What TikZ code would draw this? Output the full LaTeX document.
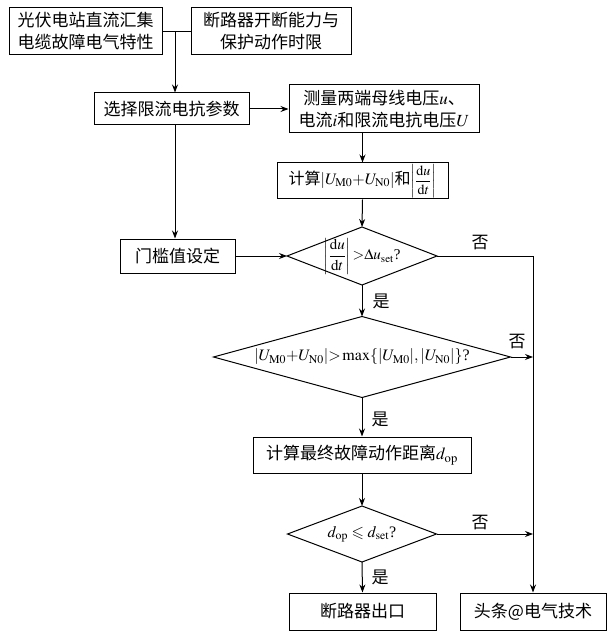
\documentclass[tikz,border=0pt]{standalone}
\usepackage{mathptmx}
\usepackage{amssymb}
\usepackage{fontspec}
\setmainfont{Liberation Serif}
\newfontfamily\cjk{Noto Sans CJK SC}
\usetikzlibrary{arrows.meta,shapes.geometric}
\newcommand{\dudt}{\left|\displaystyle\frac{\mathrm{d}u}{\mathrm{d}t}\right|}
\tikzset{
  box/.style={draw, line width=1pt, rectangle, inner sep=0pt, align=center, font=\cjk\fontsize{17}{22}\selectfont},
  dia/.style={draw, line width=1pt, diamond, inner sep=0pt, outer sep=0pt},
  diatext/.style={inner sep=0pt, font=\fontsize{16}{20}\selectfont},
  conn/.style={line width=1pt},
  arr/.style={line width=1pt, -{Stealth[length=8pt,width=6pt]}},
  lab/.style={font=\cjk\fontsize{17}{20}\selectfont, inner sep=0pt}
}
\begin{document}
\begin{tikzpicture}[x=1pt,y=-1pt]
\useasboundingbox (0,0) rectangle (613,636);
\fill[white] (0,0) rectangle (613,636);
\node[box, minimum width=153pt, minimum height=47pt] (A) at (85.5,31.5) {光伏电站直流汇集\\电缆故障电气特性};
\node[box, minimum width=160pt, minimum height=47pt] (B) at (271,31.5) {断路器开断能力与\\保护动作时限};
\node[box, minimum width=155pt, minimum height=32pt] (C) at (171.5,109) {选择限流电抗参数};
\node[box, minimum width=190pt, minimum height=48pt] (D) at (384,109) {测量两端母线电压$u$、\\电流$i$和限流电抗电压$U$};
\node[box, minimum width=171pt, minimum height=36pt, font=\cjk\fontsize{16}{20}\selectfont] (E) at (362.5,181) {计算$|U_{\mathrm{M0}}{+}U_{\mathrm{N0}}|$和\fontsize{14}{17}\selectfont$\dudt$};
\node[box, minimum width=115pt, minimum height=34pt] (F) at (177.5,256) {门槛值设定};
\node[dia, minimum width=150pt, minimum height=58pt] (d1) at (362,256) {};
\node[diatext, font=\fontsize{15}{18}\selectfont] (d1t) at (d1) {$\dudt{>}\Delta u_{\mathrm{set}}$?};
\node[dia, minimum width=297pt, minimum height=81pt] (d2) at (362,357) {};
\node[diatext] (d2t) at (d2) {$|U_{\mathrm{M0}}{+}U_{\mathrm{N0}}|{>}\max\{|U_{\mathrm{M0}}|,|U_{\mathrm{N0}}|\}$?};
\node[box, minimum width=218pt, minimum height=36pt] (G) at (362,455) {计算最终故障动作距离$d_{\mathrm{op}}$};
\node[dia, minimum width=149pt, minimum height=56pt] (d3) at (362,534) {};
\node[diatext] (d3t) at (d3) {$d_{\mathrm{op}}\leqslant d_{\mathrm{set}}$?};
\node[box, minimum width=147pt, minimum height=37pt] (H) at (362.5,611.5) {断路器出口};
\node[box, minimum width=146pt, minimum height=37pt] (I) at (533,611.5) {头条@电气技术};
% connectors
\coordinate (j) at (175,31.5);
\coordinate (r1) at (533,256);
\draw[conn] (A.east) -- (B.west);
\draw[arr] (j) -- (j |- C.north);
\draw[arr] (C.east) -- (D.west);
\draw[arr] (E.north |- D.south) -- (E.north);
\draw[arr] (E.south) -- (d1.north);
\draw[arr] (C.south -| j) -- (F.north -| j);
\draw[arr] (F.east) -- (d1.west);
\draw[conn] (d1.east) -- (r1);
\draw[arr] (r1) -- (I.north);
\draw[arr] (d1.south) -- (d2.north);
\draw[arr] (d2.east) -- (r1 |- d2.east);
\draw[arr] (d2.south) -- (G.north);
\draw[arr] (G.south) -- (d3.north);
\draw[arr] (d3.east) -- (r1 |- d3.east);
\draw[arr] (d3.south) -- (H.north);
% labels
\node[lab] (n1) at (480,243) {否};
\node[lab] (n2) at (517,342) {否};
\node[lab] (n3) at (480,523) {否};
\node[lab] (y1) at (381,301) {是};
\node[lab] (y2) at (380,419) {是};
\node[lab] (y3) at (380,577) {是};
\end{tikzpicture}
\end{document}
